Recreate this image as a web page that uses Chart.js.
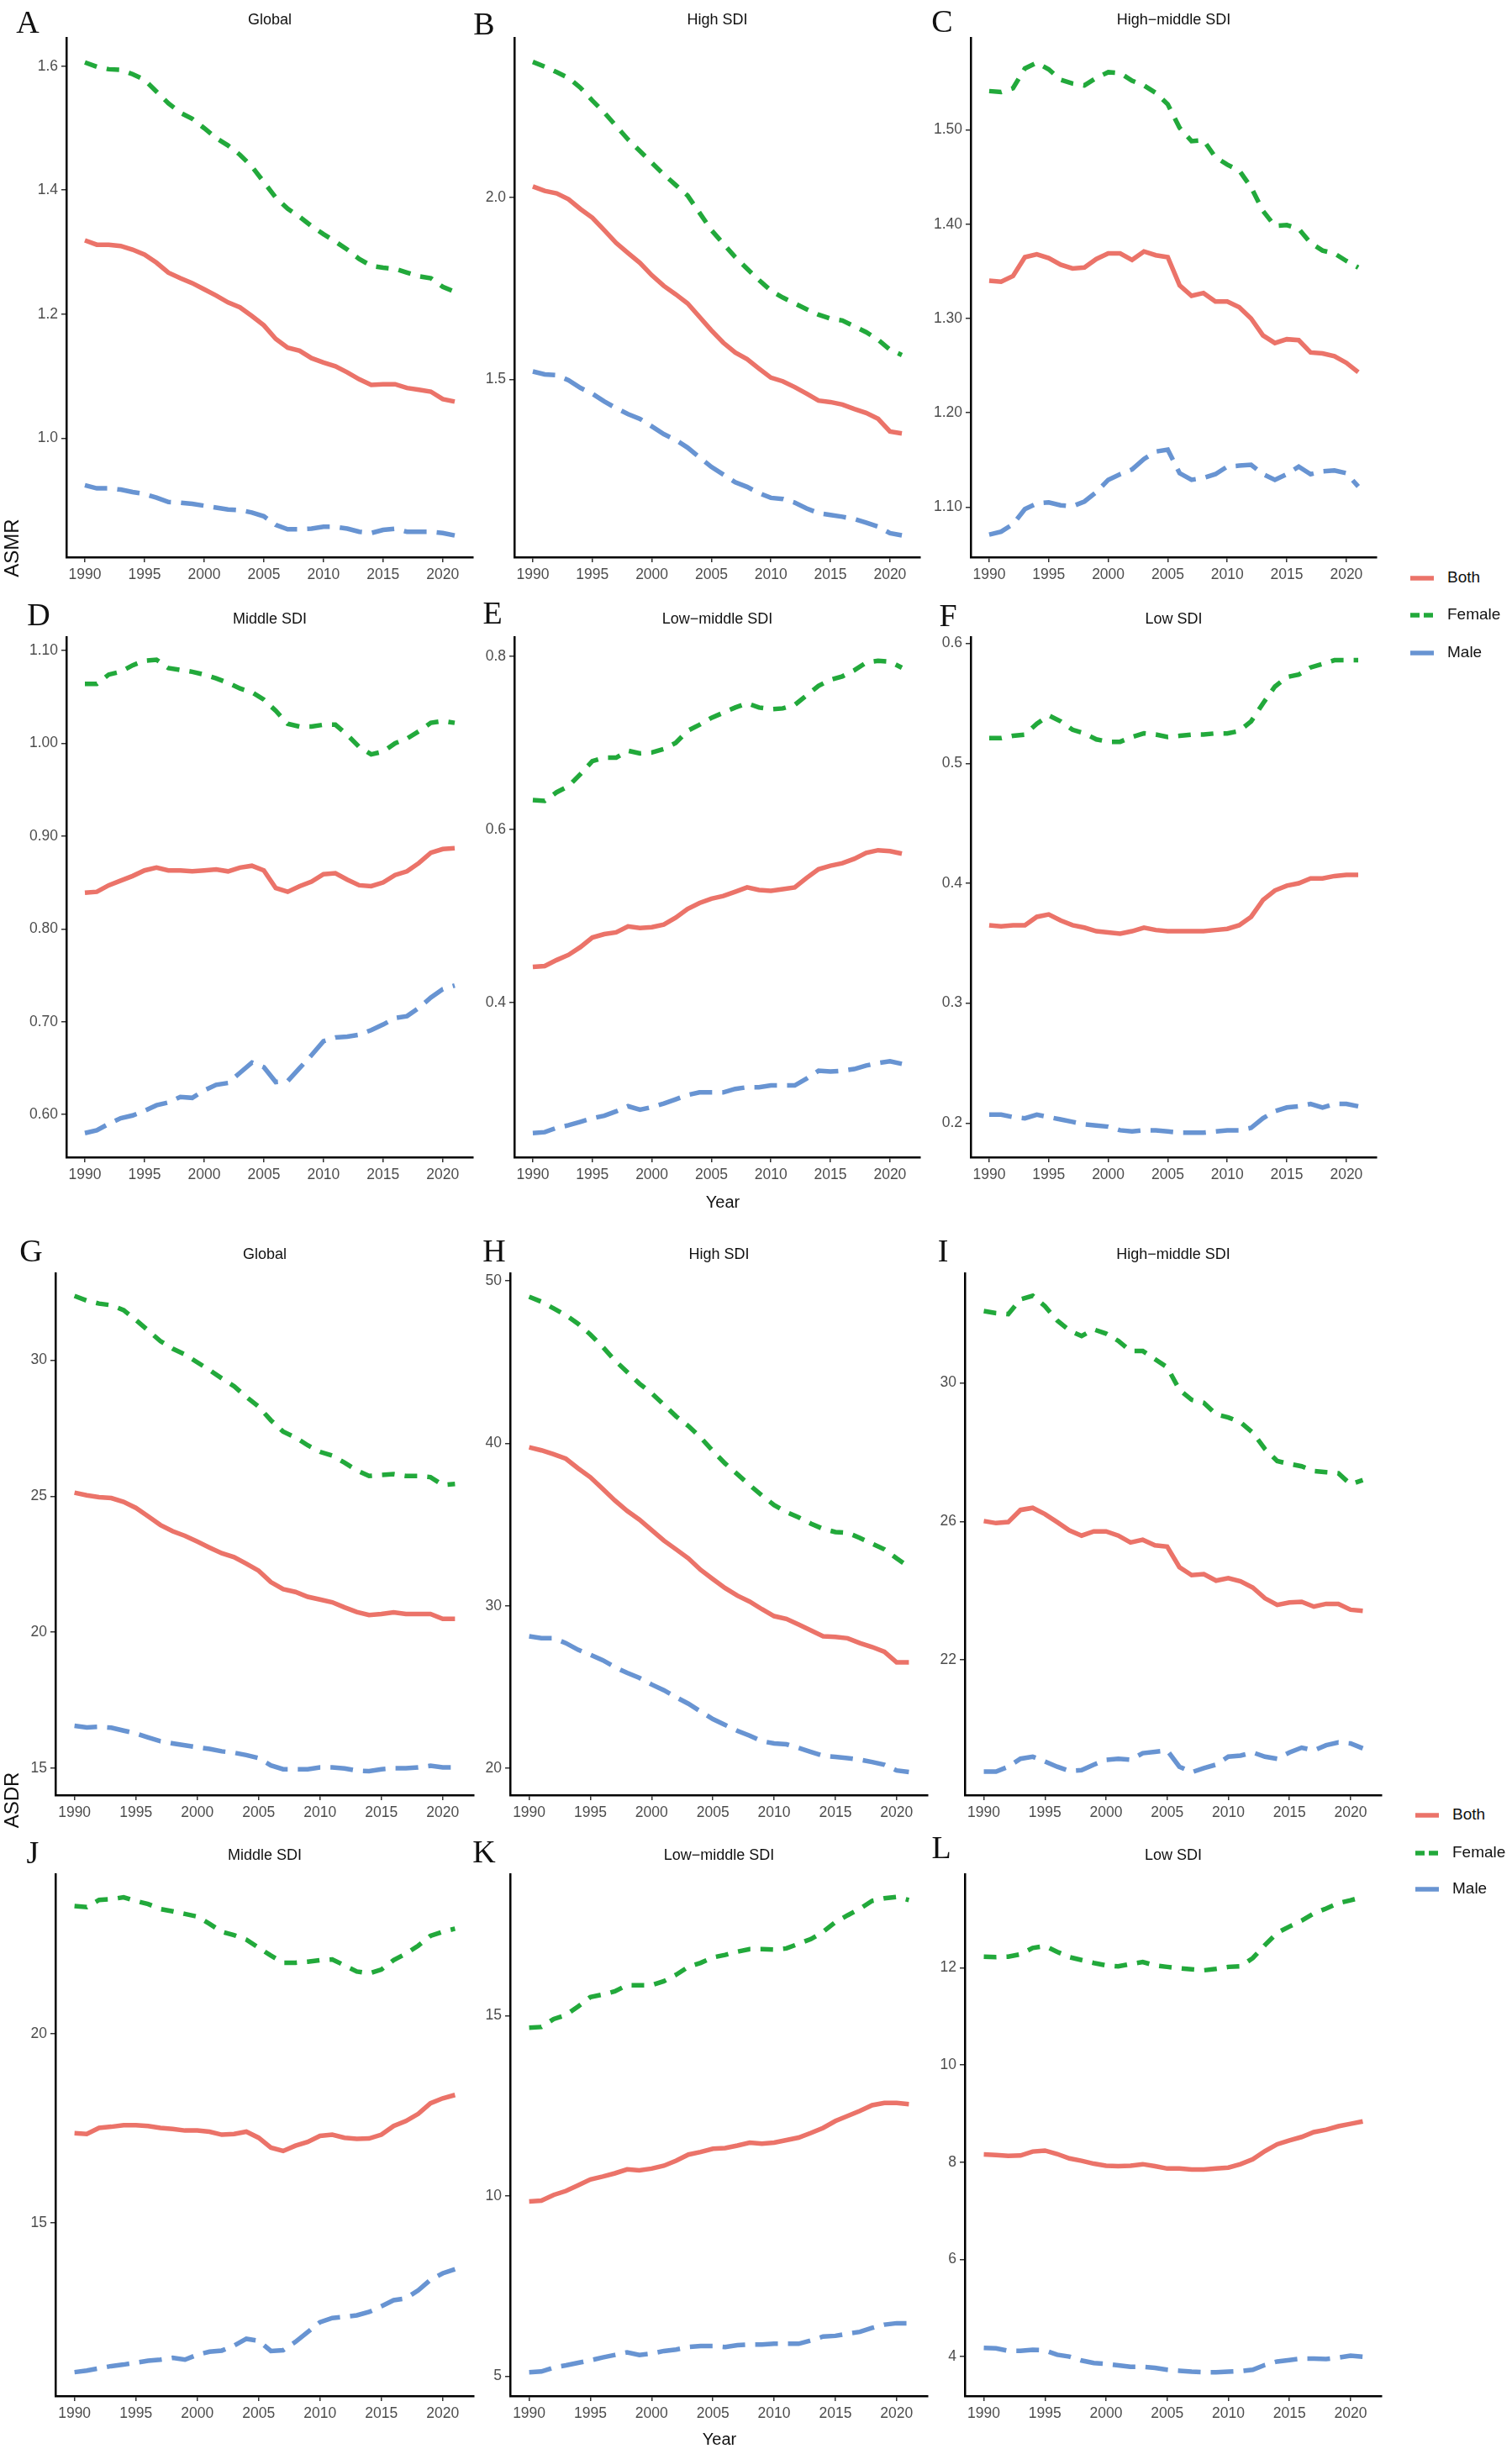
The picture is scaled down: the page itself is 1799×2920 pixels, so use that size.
<!DOCTYPE html>
<html>
<head>
<meta charset="utf-8">
<script src="https://cdn.jsdelivr.net/npm/chart.js@4.4.1/dist/chart.umd.min.js"></script>
<style>
  html, body { margin: 0; padding: 0; background: #fff; }
  #page { position: relative; width: 1799px; height: 2920px; overflow: hidden; font-family: "Liberation Sans", Arial, sans-serif; }
  canvas { position: absolute; }
  .txt { position: absolute; transform: translate(-50%, -50%); white-space: nowrap; color: #111; }
  .letter { font-family: "Liberation Serif", "Times New Roman", serif; font-size: 38px; }
  .title { font-size: 18px; }
  .axis-title { font-size: 20px; }
  .legend { position: absolute; font-size: 19px; color: #111; }
  .legend div { position: absolute; left: 0; height: 24px; line-height: 24px; white-space: nowrap; }
  .legend svg { vertical-align: middle; margin-right: 16px; }
</style>
</head>
<body>
<div id="page"></div>
<script>
// Years on the x axis
const years = [1990,1991,1992,1993,1994,1995,1996,1997,1998,1999,2000,2001,2002,2003,2004,2005,2006,2007,2008,2009,2010,2011,2012,2013,2014,2015,2016,2017,2018,2019,2020,2021];
const xTicks = [1990, 1995, 2000, 2005, 2010, 2015, 2020];
const seriesNames = ["Both", "Female", "Male"];

// A - Global ASMR
const bothA = [1.319,1.312,1.312,1.310,1.304,1.296,1.283,1.267,1.258,1.250,1.240,1.230,1.219,1.211,1.197,1.182,1.160,1.146,1.141,1.129,1.122,1.116,1.106,1.095,1.086,1.087,1.087,1.081,1.078,1.075,1.063,1.059];
const femaleA = [1.606,1.599,1.595,1.594,1.587,1.578,1.559,1.540,1.525,1.515,1.500,1.484,1.472,1.457,1.438,1.413,1.388,1.370,1.357,1.342,1.329,1.317,1.304,1.289,1.278,1.275,1.273,1.267,1.261,1.258,1.244,1.236];
const maleA = [0.924,0.919,0.919,0.917,0.913,0.910,0.904,0.897,0.896,0.894,0.891,0.888,0.885,0.884,0.880,0.874,0.860,0.853,0.853,0.854,0.857,0.857,0.854,0.849,0.847,0.852,0.854,0.849,0.849,0.849,0.847,0.843];
const ticksA = [1.0, 1.2, 1.4, 1.6];

// B - High SDI ASMR
const bothB = [2.030,2.018,2.011,1.995,1.968,1.944,1.910,1.875,1.847,1.820,1.786,1.757,1.734,1.709,1.672,1.635,1.601,1.574,1.556,1.530,1.505,1.495,1.479,1.461,1.442,1.438,1.431,1.419,1.408,1.392,1.357,1.352];
const femaleB = [2.372,2.359,2.344,2.328,2.301,2.266,2.233,2.196,2.159,2.127,2.095,2.063,2.034,2.005,1.958,1.910,1.873,1.836,1.804,1.773,1.744,1.725,1.709,1.693,1.678,1.667,1.662,1.646,1.630,1.609,1.582,1.567];
const maleB = [1.522,1.514,1.512,1.498,1.477,1.461,1.440,1.421,1.405,1.392,1.371,1.350,1.334,1.313,1.286,1.260,1.239,1.218,1.205,1.188,1.175,1.172,1.162,1.146,1.133,1.128,1.123,1.117,1.107,1.096,1.078,1.072];
const ticksB = [1.5, 2.0];

// C - High-middle SDI ASMR
const bothC = [1.340,1.339,1.345,1.365,1.368,1.364,1.357,1.353,1.354,1.363,1.369,1.369,1.362,1.371,1.367,1.365,1.335,1.324,1.327,1.318,1.318,1.312,1.300,1.282,1.274,1.278,1.277,1.264,1.263,1.260,1.253,1.243];
const femaleC = [1.541,1.540,1.544,1.565,1.571,1.564,1.553,1.549,1.547,1.555,1.561,1.560,1.552,1.547,1.539,1.527,1.502,1.488,1.489,1.471,1.463,1.457,1.439,1.414,1.398,1.399,1.395,1.380,1.372,1.369,1.361,1.354];
const maleC = [1.071,1.074,1.082,1.098,1.104,1.105,1.102,1.101,1.106,1.116,1.129,1.135,1.140,1.151,1.159,1.161,1.136,1.129,1.131,1.135,1.143,1.144,1.145,1.135,1.129,1.135,1.143,1.135,1.138,1.139,1.136,1.122];
const ticksC = [1.10, 1.20, 1.30, 1.40, 1.50];

// D - Middle SDI ASMR
const bothD = [0.839,0.840,0.847,0.852,0.857,0.863,0.866,0.863,0.863,0.862,0.863,0.864,0.862,0.866,0.868,0.863,0.844,0.840,0.846,0.851,0.859,0.860,0.853,0.847,0.846,0.850,0.858,0.862,0.871,0.882,0.886,0.887];
const femaleD = [1.064,1.064,1.074,1.077,1.084,1.089,1.090,1.081,1.079,1.077,1.074,1.070,1.065,1.059,1.055,1.047,1.035,1.021,1.018,1.018,1.020,1.020,1.009,0.996,0.988,0.991,1.000,1.005,1.013,1.022,1.024,1.022];
const maleD = [0.580,0.583,0.590,0.596,0.599,0.604,0.610,0.613,0.619,0.618,0.626,0.632,0.634,0.645,0.656,0.651,0.635,0.636,0.650,0.664,0.679,0.683,0.684,0.686,0.691,0.697,0.704,0.706,0.715,0.726,0.735,0.739];
const ticksD = [0.60, 0.70, 0.80, 0.90, 1.00, 1.10];

// E - Low-middle SDI ASMR
const bothE = [0.441,0.442,0.449,0.455,0.464,0.475,0.479,0.481,0.488,0.486,0.487,0.490,0.498,0.508,0.515,0.520,0.523,0.528,0.533,0.530,0.529,0.531,0.533,0.544,0.554,0.558,0.561,0.566,0.573,0.576,0.575,0.572];
const femaleE = [0.634,0.633,0.643,0.650,0.664,0.679,0.683,0.683,0.691,0.688,0.689,0.693,0.700,0.714,0.721,0.729,0.735,0.741,0.746,0.741,0.739,0.740,0.744,0.755,0.766,0.773,0.777,0.784,0.793,0.795,0.794,0.787];
const maleE = [0.249,0.250,0.255,0.258,0.262,0.266,0.269,0.274,0.280,0.276,0.279,0.283,0.288,0.293,0.296,0.296,0.296,0.300,0.302,0.302,0.304,0.304,0.304,0.312,0.321,0.320,0.321,0.323,0.327,0.330,0.332,0.329];
const ticksE = [0.4, 0.6, 0.8];

// F - Low SDI ASMR
const bothF = [0.365,0.364,0.365,0.365,0.372,0.374,0.369,0.365,0.363,0.360,0.359,0.358,0.360,0.363,0.361,0.360,0.360,0.360,0.360,0.361,0.362,0.365,0.372,0.386,0.394,0.398,0.400,0.404,0.404,0.406,0.407,0.407];
const femaleF = [0.521,0.521,0.523,0.524,0.533,0.540,0.535,0.528,0.525,0.520,0.518,0.518,0.522,0.525,0.524,0.522,0.523,0.524,0.524,0.525,0.525,0.527,0.535,0.550,0.564,0.572,0.574,0.580,0.583,0.586,0.586,0.586];
const maleF = [0.207,0.207,0.205,0.204,0.207,0.205,0.203,0.201,0.199,0.198,0.197,0.194,0.193,0.194,0.194,0.193,0.192,0.192,0.192,0.193,0.194,0.194,0.196,0.204,0.210,0.213,0.214,0.216,0.213,0.216,0.216,0.214];
const ticksF = [0.2, 0.3, 0.4, 0.5, 0.6];

// G - Global ASDR
const bothG = [25.13,25.03,24.96,24.93,24.79,24.57,24.26,23.94,23.71,23.54,23.33,23.11,22.90,22.76,22.52,22.26,21.84,21.58,21.48,21.30,21.20,21.10,20.91,20.74,20.63,20.67,20.73,20.67,20.67,20.67,20.49,20.49];
const femaleG = [32.36,32.19,32.08,32.02,31.84,31.48,31.09,30.70,30.42,30.21,29.92,29.64,29.33,29.04,28.65,28.29,27.79,27.37,27.16,26.87,26.63,26.49,26.23,25.95,25.74,25.78,25.81,25.74,25.74,25.70,25.41,25.45];
const maleG = [16.56,16.50,16.52,16.49,16.38,16.28,16.13,15.99,15.91,15.84,15.77,15.71,15.62,15.57,15.48,15.37,15.10,14.96,14.96,14.96,15.03,15.03,14.99,14.91,14.89,14.96,15.00,15.00,15.03,15.09,15.03,15.03];
const ticksG = [15, 20, 25, 30];

// H - High SDI ASDR
const bothH = [39.76,39.57,39.33,39.05,38.46,37.91,37.20,36.48,35.84,35.30,34.66,34.01,33.47,32.92,32.21,31.64,31.09,30.62,30.26,29.79,29.36,29.19,28.84,28.48,28.12,28.08,28.00,27.70,27.46,27.17,26.51,26.51];
const femaleH = [49.03,48.72,48.31,47.89,47.36,46.70,45.94,45.11,44.39,43.68,43.09,42.38,41.66,41.07,40.36,39.53,38.76,38.10,37.43,36.79,36.20,35.77,35.44,35.06,34.73,34.54,34.49,34.18,33.82,33.47,32.92,32.40];
const maleH = [28.12,28.00,28.00,27.70,27.29,26.98,26.65,26.22,25.87,25.56,25.15,24.80,24.37,23.97,23.49,23.02,22.66,22.30,22.00,21.66,21.52,21.47,21.24,21.00,20.76,20.69,20.62,20.52,20.38,20.21,19.86,19.76];
const ticksH = [20, 30, 40, 50];

// I - High-middle SDI ASDR
const bothI = [26.01,25.95,25.98,26.33,26.39,26.21,25.98,25.74,25.59,25.71,25.71,25.59,25.39,25.47,25.31,25.27,24.68,24.45,24.48,24.29,24.36,24.27,24.09,23.78,23.59,23.66,23.68,23.54,23.62,23.62,23.45,23.42];
const femaleI = [32.07,32.01,31.98,32.41,32.51,32.21,31.80,31.51,31.35,31.54,31.42,31.21,30.92,30.92,30.68,30.45,29.80,29.51,29.42,29.09,29.00,28.86,28.56,28.09,27.74,27.66,27.59,27.45,27.42,27.39,27.07,27.19];
const maleI = [18.78,18.78,18.92,19.15,19.21,19.07,18.92,18.80,18.82,18.98,19.12,19.15,19.12,19.31,19.35,19.39,18.92,18.76,18.88,18.98,19.21,19.24,19.33,19.21,19.15,19.33,19.47,19.39,19.54,19.62,19.59,19.45];
const ticksI = [22, 26, 30];

// J - Middle SDI ASDR
const bothJ = [17.37,17.35,17.51,17.54,17.58,17.58,17.56,17.51,17.48,17.44,17.44,17.41,17.33,17.35,17.41,17.25,16.99,16.90,17.04,17.14,17.30,17.33,17.25,17.22,17.23,17.33,17.56,17.69,17.88,18.16,18.29,18.38];
const femaleJ = [23.37,23.34,23.53,23.55,23.60,23.50,23.42,23.29,23.23,23.16,23.09,22.90,22.69,22.60,22.48,22.27,22.06,21.87,21.87,21.90,21.94,21.96,21.80,21.64,21.59,21.69,21.94,22.11,22.32,22.58,22.69,22.77];
const maleJ = [11.06,11.10,11.16,11.22,11.26,11.31,11.36,11.39,11.44,11.39,11.52,11.60,11.63,11.76,11.94,11.89,11.62,11.64,11.86,12.12,12.38,12.49,12.52,12.56,12.65,12.80,12.96,13.01,13.22,13.50,13.67,13.78];
const ticksJ = [15, 20];

// K - Low-middle SDI ASDR
const bothK = [9.85,9.87,10.03,10.14,10.30,10.46,10.54,10.63,10.74,10.71,10.76,10.84,10.98,11.15,11.22,11.31,11.33,11.40,11.48,11.45,11.48,11.55,11.62,11.75,11.89,12.08,12.22,12.36,12.52,12.58,12.58,12.55];
const femaleK = [14.67,14.69,14.91,15.02,15.26,15.52,15.59,15.68,15.85,15.85,15.85,15.96,16.14,16.36,16.47,16.62,16.69,16.78,16.85,16.85,16.84,16.87,17.00,17.13,17.33,17.60,17.79,17.97,18.19,18.26,18.30,18.21];
const maleK = [5.11,5.13,5.24,5.30,5.37,5.44,5.52,5.59,5.66,5.59,5.63,5.70,5.74,5.81,5.84,5.84,5.81,5.86,5.88,5.88,5.90,5.90,5.90,5.99,6.10,6.12,6.18,6.23,6.34,6.43,6.47,6.47];
const ticksK = [5, 10, 15];

// L - Low SDI ASDR
const bothL = [8.16,8.15,8.13,8.14,8.22,8.24,8.17,8.08,8.03,7.97,7.93,7.92,7.93,7.96,7.92,7.87,7.87,7.85,7.85,7.87,7.89,7.96,8.06,8.23,8.37,8.45,8.52,8.62,8.67,8.74,8.79,8.84];
const femaleL = [12.23,12.22,12.23,12.28,12.41,12.45,12.33,12.22,12.16,12.10,12.05,12.03,12.08,12.12,12.05,12.02,11.99,11.97,11.95,11.98,12.02,12.03,12.20,12.47,12.72,12.85,12.97,13.12,13.22,13.33,13.39,13.46];
const maleL = [4.18,4.17,4.12,4.12,4.14,4.13,4.04,4.00,3.92,3.87,3.85,3.82,3.79,3.79,3.77,3.73,3.71,3.69,3.68,3.68,3.69,3.70,3.73,3.83,3.90,3.93,3.96,3.96,3.95,3.98,4.02,4.00];
const ticksL = [4, 6, 8, 10, 12];

// Line styles for the three series
const colors = ["#EB7369", "#22A93B", "#6894D2"];
const dashes = [[], [15, 12], [27, 12]];
const lineWidth = 5.5;

// Panels: letter, title, data, y ticks, y range, decimals
const panels = [
  { letter: "A", title: "Global", data: [bothA, femaleA, maleA], ticks: ticksA, min: 0.808, max: 1.645, dec: 1 },
  { letter: "B", title: "High SDI", data: [bothB, femaleB, maleB], ticks: ticksB, min: 1.012, max: 2.437, dec: 1 },
  { letter: "C", title: "High\u2212middle SDI", data: [bothC, femaleC, maleC], ticks: ticksC, min: 1.047, max: 1.597, dec: 2 },
  { letter: "D", title: "Middle SDI", data: [bothD, femaleD, maleD], ticks: ticksD, min: 0.554, max: 1.114, dec: 2 },
  { letter: "E", title: "Low\u2212middle SDI", data: [bothE, femaleE, maleE], ticks: ticksE, min: 0.221, max: 0.822, dec: 1 },
  { letter: "F", title: "Low SDI", data: [bothF, femaleF, maleF], ticks: ticksF, min: 0.1715, max: 0.605, dec: 1 },
  { letter: "G", title: "Global", data: [bothG, femaleG, maleG], ticks: ticksG, min: 14.01, max: 33.18, dec: 0 },
  { letter: "H", title: "High SDI", data: [bothH, femaleH, maleH], ticks: ticksH, min: 18.34, max: 50.45, dec: 0 },
  { letter: "I", title: "High\u2212middle SDI", data: [bothI, femaleI, maleI], ticks: ticksI, min: 18.1, max: 33.15, dec: 0 },
  { letter: "J", title: "Middle SDI", data: [bothJ, femaleJ, maleJ], ticks: ticksJ, min: 10.43, max: 24.2, dec: 0 },
  { letter: "K", title: "Low\u2212middle SDI", data: [bothK, femaleK, maleK], ticks: ticksK, min: 4.45, max: 18.92, dec: 0 },
  { letter: "L", title: "Low SDI", data: [bothL, femaleL, maleL], ticks: ticksL, min: 3.19, max: 13.92, dec: 0 },
];

// Layout of the plot areas (page pixels)
const rowBox = [[45, 663], [758, 1377], [1515, 2136], [2230, 2851]];
const colsTop = [[79, 563], [612, 1095], [1155, 1638]];
const colsBottom = [[66, 564], [607, 1104], [1148, 1644]];
const titleY = [23, 736, 1492, 2207];
const letterPos = [[33, 26], [576, 28], [1121, 25], [46, 731], [586, 729], [1128, 732],
                   [37, 1488], [588, 1488], [1122, 1488], [39, 2204], [576, 2203], [1120, 2198]];

const page = document.querySelector("#page");
const Y_AXIS_W = 60, X_AXIS_H = 45, PAD_TOP = 14, PAD_RIGHT = 12;
const tickFont = { family: "'Liberation Sans', Arial, sans-serif", size: 17.5 };

const addText = (text, x, y, cls, extra) => {
  const el = document.createElement("div");
  el.className = "txt " + cls;
  el.textContent = text;
  el.style.left = x + "px";
  el.style.top = y + "px";
  if (extra) Object.assign(el.style, extra);
  page.appendChild(el);
};

const drawPanel = (p, i) => {
  const row = Math.floor(i / 3);
  const col = i % 3;
  const [left, right] = (row < 2 ? colsTop : colsBottom)[col];
  const [top, bottom] = rowBox[row];

  const canvas = document.createElement("canvas");
  const w = right - left + Y_AXIS_W + PAD_RIGHT;
  const h = bottom - top + PAD_TOP + X_AXIS_H;
  canvas.width = w;
  canvas.height = h;
  canvas.style.width = w + "px";
  canvas.style.height = h + "px";
  canvas.style.left = (left - Y_AXIS_W) + "px";
  canvas.style.top = (top - PAD_TOP) + "px";
  page.appendChild(canvas);

  const datasets = p.data.map((values, k) => ({
    label: seriesNames[k],
    data: years.map((yr, j) => ({ x: yr, y: values[j] })),
    borderColor: colors[k],
    borderWidth: lineWidth,
    borderDash: dashes[k],
    borderCapStyle: "butt",
    pointRadius: 0,
    tension: 0,
    fill: false,
  }));
  // draw Male first, Both last like the reference stacking
  datasets[0].order = 0;
  datasets[1].order = 1;
  datasets[2].order = 2;

  new Chart(canvas, {
    type: "line",
    data: { datasets },
    options: {
      responsive: false,
      animation: false,
      devicePixelRatio: 1,
      layout: { padding: { top: PAD_TOP, right: PAD_RIGHT, left: 0, bottom: 0 } },
      plugins: { legend: { display: false }, tooltip: { enabled: false } },
      scales: {
        x: {
          type: "linear",
          min: 1988.45,
          max: 2022.55,
          afterBuildTicks: (scale) => { scale.ticks = xTicks.map((v) => ({ value: v })); },
          afterFit: (scale) => { scale.height = X_AXIS_H; },
          border: { display: true, color: "#000", width: 2.5 },
          grid: { display: true, drawOnChartArea: false, drawTicks: true, tickLength: 6, color: "#333", lineWidth: 1.5 },
          ticks: { color: "#4D4D4D", font: tickFont, padding: 5, maxRotation: 0, autoSkip: false, callback: (v) => String(v) },
        },
        y: {
          type: "linear",
          min: p.min,
          max: p.max,
          afterBuildTicks: (scale) => { scale.ticks = p.ticks.map((v) => ({ value: v })); },
          afterFit: (scale) => { scale.width = Y_AXIS_W; },
          border: { display: true, color: "#000", width: 2.5 },
          grid: { display: true, drawOnChartArea: false, drawTicks: true, tickLength: 6, color: "#333", lineWidth: 1.5 },
          ticks: { color: "#4D4D4D", font: tickFont, padding: 4, autoSkip: false, callback: (v) => Number(v).toFixed(p.dec) },
        },
      },
    },
  });

  addText(p.title, (left + right) / 2, titleY[row], "title");
  addText(p.letter, letterPos[i][0], letterPos[i][1], "letter");
};

panels.forEach(drawPanel);

// Axis titles
addText("ASMR", 14, 652, "axis-title", { transform: "translate(-50%, -50%) rotate(-90deg)", fontSize: "24px" });
addText("ASDR", 14, 2142, "axis-title", { transform: "translate(-50%, -50%) rotate(-90deg)", fontSize: "24px" });
addText("Year", 860, 1430, "axis-title");
addText("Year", 856, 2902, "axis-title");

// Legends
const drawLegend = (x, ys) => {
  const box = document.createElement("div");
  box.className = "legend";
  box.style.left = x + "px";
  box.style.top = "0px";
  seriesNames.forEach((name, k) => {
    const item = document.createElement("div");
    item.style.top = (ys[k] - 12) + "px";
    const dash = k === 1 ? "11 5" : "none";
    item.innerHTML = `<svg width="28" height="10"><line x1="0" y1="5" x2="28" y2="5" stroke="${colors[k]}" stroke-width="${lineWidth}" stroke-dasharray="${dash}"/></svg>${name}`;
    box.appendChild(item);
  });
  page.appendChild(box);
};

drawLegend(1678, [687, 731, 776]);
drawLegend(1684, [2159, 2204, 2247]);
</script>
</body>
</html>
